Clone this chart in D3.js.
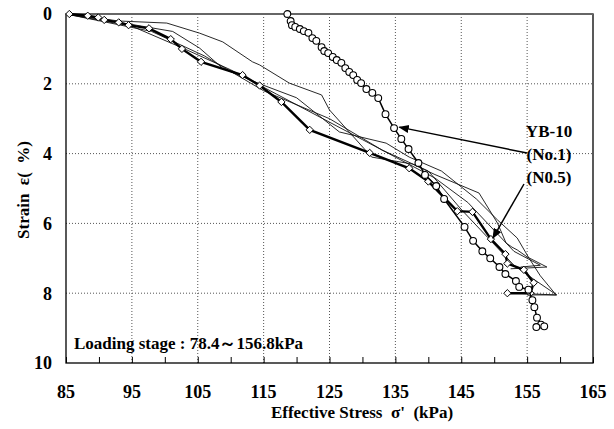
<!DOCTYPE html>
<html>
<head>
<meta charset="utf-8">
<script src="https://cdn.jsdelivr.net/npm/d3@7"></script>
<style>
  body { margin: 0; background: #fff; }
  svg text { font-family: "Liberation Serif", "DejaVu Serif", serif !important; font-weight: bold; white-space: pre; }
</style>
</head>
<body>
<svg></svg>
<script>
// ticks
var xTicks = [85, 95, 105, 115, 125, 135, 145, 155, 165]
var yTicks = [0, 2, 4, 6, 8, 10]

// YB-10 No.1 (circles)
var seriesNo1 = [[118.6,0],[119.1,0.2],[119.3,0.32],[119.8,0.37],[120.5,0.43],[121.1,0.49],[121.8,0.54],[122.4,0.69],
  [123.0,0.77],[123.8,0.95],[124.2,1.06],[124.8,1.12],[125.5,1.23],[126.1,1.32],[126.8,1.40],[127.4,1.55],[128.0,1.66],
  [128.6,1.75],[129.2,1.89],[129.8,1.98],[130.6,2.15],[131.5,2.26],[132.4,2.41],[133.5,2.87],[134.8,3.27],[135.9,3.58],
  [137.0,3.87],[138.5,4.27],[139.5,4.61],[141.2,4.93],[142.4,5.3],[145.5,6.1],[146.8,6.5],[148.2,6.8],[149.4,7.0],
  [150.8,7.25],[151.7,7.45],[153.3,7.65],[153.8,7.82],[155.2,7.9],[155.8,8.2],[156.1,8.4],[156.5,8.7],[157.1,8.9],
  [157.6,8.95],[156.4,8.97]]

// No.5 (thick line, diamonds)
var seriesNo5 = [[85.5,0],[88.3,0.05],[89.9,0.1],[90.8,0.17],[93,0.24],[94.5,0.32],[97.6,0.41],[100.9,0.72],[102.6,1.0],
  [105.5,1.37],[111.8,1.75],[114.4,2.05],[117.7,2.52],[122,3.32],[131.1,3.98],[137.1,4.42],[140,4.8],[144.4,5.65],
  [146.7,5.67],[149.5,6.45],[151.7,6.88],[152,7.15],[154.5,7.33],[156,7.7],[155.5,8.0],[152,8.0]]

// other thin curves
var thinA = [[85,0],[93,0.2],[100.3,0.26],[105.3,0.55],[108.8,0.8],[113.3,1.37],[114.4,1.46],[118.9,1.98],[123.8,2.32],
  [125,2.75],[131.4,4.1],[137.6,4.3],[141,4.6],[147.7,5.13],[150.5,5.99],[151.8,6.56],[152.7,6.68],[153.5,6.76],
  [155,6.96],[158,7.25],[152.5,7.3]]
var thinB = [[85,0],[95,0.3],[101.2,0.5],[105.3,0.98],[108.8,1.56],[114.4,2.0],[120,2.4],[126.5,3.38],[133.6,3.7],
  [137.1,4.1],[142,4.5],[147.3,5.3],[150.5,5.9],[153.5,6.42],[155.3,7.0],[157,7.5],[159.4,8.05],[153,8.0]]
var thinC = [[85,0],[95,0.35],[103,1.0],[110,1.6],[117,2.3],[124,3.0],[130,3.6],[136,4.2],[141,4.7],[146,5.4],
  [150,6.2],[153,6.8],[157,7.2],[154,7.25]]
var thinD = [[85,0],[98,0.5],[106,1.2],[115,2.2],[125,3.0],[133,3.9],[140,4.5],[145,5.6],[149,6.4],[153,7.2],
  [156,7.6],[159.5,8.05],[155,8.05]]

var svg = d3.select("svg")
    .attr("width", 614)
    .attr("height", 429)

var margin = {top: 14, right: 21, bottom: 66, left: 66}
var w = 614 - margin.left - margin.right
var h = 429 - margin.top - margin.bottom

var g = svg.append("g")
    .attr("transform", `translate(${margin.left}, ${margin.top})`)

var scX = d3.scaleLinear().domain([85, 165]).range([0, w])
var scY = d3.scaleLinear().domain([0, 10]).range([0, h])

// dotted grid
g.append("g").selectAll("line").data(xTicks.slice(1, -1)).enter().append("line")
    .attr("x1", d => scX(d)).attr("x2", d => scX(d))
    .attr("y1", 0).attr("y2", h)
    .attr("stroke", "#555").attr("stroke-width", 1).attr("stroke-dasharray", "1,2")
g.append("g").selectAll("line").data(yTicks.slice(1, -1)).enter().append("line")
    .attr("x1", 0).attr("x2", w)
    .attr("y1", d => scY(d)).attr("y2", d => scY(d))
    .attr("stroke", "#555").attr("stroke-width", 1).attr("stroke-dasharray", "1,2")

// bottom axis, inward ticks every 5
var xAxis = d3.axisBottom(scX).tickValues(d3.range(85, 166, 5)).tickSize(-6).tickFormat("")
var xg = g.append("g").attr("transform", `translate(0, ${h})`).call(xAxis)
xg.select(".domain").remove()
xg.selectAll("line").attr("stroke", "#000")

g.append("g").selectAll("text").data(xTicks).enter().append("text")
    .attr("x", d => scX(d)).attr("y", h + 35)
    .attr("text-anchor", "middle").attr("font-size", 18).attr("fill", "#000")
    .text(d => d)

// left labels
g.append("g").selectAll("text").data(yTicks).enter().append("text")
    .attr("x", -14).attr("y", d => scY(d)).attr("dy", "0.35em")
    .attr("text-anchor", "end").attr("font-size", 18).attr("fill", "#000")
    .text(d => d)

// frame
g.append("rect").attr("width", w).attr("height", h)
    .attr("fill", "none").attr("stroke", "#000").attr("stroke-width", 1.3)
g.append("line").attr("x1", 0).attr("x2", w).attr("y1", 0).attr("y2", 0)
    .attr("stroke", "#666").attr("stroke-width", 2)

var line = d3.line().x(d => scX(d[0])).y(d => scY(d[1]))

// thin lines
var thin = [thinA, thinB, thinC, thinD]
g.selectAll(".thin").data(thin).enter().append("path")
    .attr("d", line).attr("fill", "none").attr("stroke", "#111").attr("stroke-width", 0.9)

// No.5 thick + diamonds
g.append("path").datum(seriesNo5).attr("d", line)
    .attr("fill", "none").attr("stroke", "#000").attr("stroke-width", 2.4)
g.selectAll(".dia").data(seriesNo5).enter().append("path")
    .attr("d", d3.symbol().type(d3.symbolDiamond2).size(34))
    .attr("transform", d => `translate(${scX(d[0])}, ${scY(d[1])})`)
    .attr("fill", "#fff").attr("stroke", "#000").attr("stroke-width", 1)

// No.1 circles
g.append("path").datum(seriesNo1).attr("d", line)
    .attr("fill", "none").attr("stroke", "#000").attr("stroke-width", 1.5)
g.selectAll(".cir").data(seriesNo1).enter().append("circle")
    .attr("cx", d => scX(d[0])).attr("cy", d => scY(d[1])).attr("r", 3.4)
    .attr("fill", "#fff").attr("stroke", "#000").attr("stroke-width", 1.1)

// arrows
svg.append("defs").append("marker")
    .attr("id", "arr").attr("viewBox", "0 0 10 10").attr("refX", 9).attr("refY", 5)
    .attr("markerWidth", 7).attr("markerHeight", 7).attr("orient", "auto-start-reverse")
    .append("path").attr("d", "M0,1 L10,5 L0,9 z").attr("fill", "#000")

var arrows = [[[527, 153], [135.3, 3.27]], [[524, 184], [149.5, 6.45]]]
svg.selectAll(".arrow").data(arrows).enter().append("line")
    .attr("x1", d => d[0][0]).attr("y1", d => d[0][1])
    .attr("x2", d => margin.left + scX(d[1][0]) + 2).attr("y2", d => margin.top + scY(d[1][1]) - 1)
    .attr("stroke", "#000").attr("stroke-width", 1.5).attr("marker-end", "url(#arr)")

var notes = ["YB-10", "(No.1)", "(N0.5)"]
svg.selectAll(".note").data(notes).enter().append("text")
    .attr("x", 549).attr("y", (d, i) => 137 + i * 23)
    .attr("text-anchor", "middle").attr("font-size", 17).attr("fill", "#000")
    .text(d => d)

svg.append("text").attr("x", 74).attr("y", 349).attr("font-size", 17)
    .text("Loading stage : 78.4～156.8kPa")

svg.append("text").attr("x", 362).attr("y", 418).attr("text-anchor", "middle").attr("font-size", 17)
    .text("Effective Stress  σ'  (kPa)")

svg.append("text").attr("transform", "translate(29, 190) rotate(-90)")
    .attr("text-anchor", "middle").attr("font-size", 17)
    .text("Strain  ε(  %)")
</script>
</body>
</html>
